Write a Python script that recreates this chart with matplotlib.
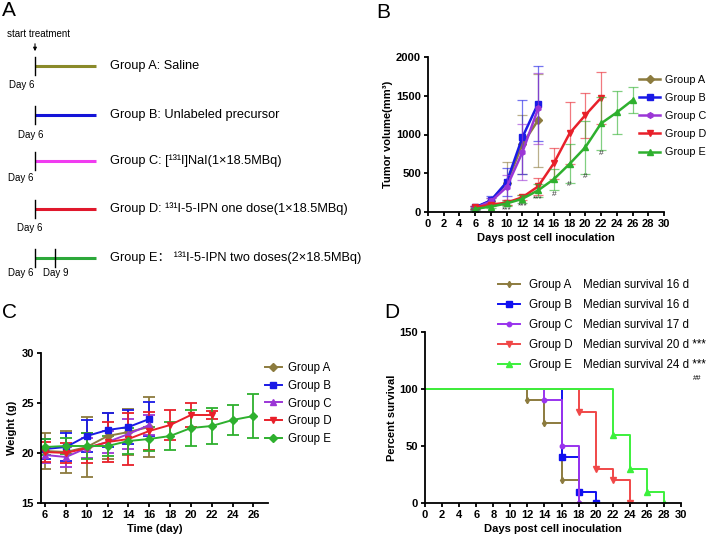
import numpy as np
import matplotlib
matplotlib.use('Agg')
import matplotlib.pyplot as plt

plt.rcParams['font.family'] = ['Liberation Sans', 'Noto Sans CJK SC']
plt.rcParams['axes.linewidth'] = 1.3
plt.rcParams['xtick.major.width'] = 1.3
plt.rcParams['ytick.major.width'] = 1.3
plt.rcParams['xtick.major.size'] = 3
plt.rcParams['ytick.major.size'] = 3

groups = ['Group A', 'Group B', 'Group C', 'Group D', 'Group E']

# ---- panel A: treatment schedule
schedule_labels = ['Group A: Saline',
                   'Group B: Unlabeled precursor',
                   'Group C: [\u00b9\u00b3\u00b9I]NaI(1\u00d718.5MBq)',
                   'Group D: \u00b9\u00b3\u00b9I-5-IPN one dose(1\u00d718.5MBq)',
                   'Group E\uff1a \u00b9\u00b3\u00b9I-5-IPN two doses(2\u00d718.5MBq)']
schedule_colors = ['#8a8a2a', '#1414d8', '#f03cf0', '#e0182c', '#2ca83a']
dose_days = [[6], [6], [6], [6], [6, 9]]

# ---- panel B: tumor volume (mm3)
vol_days = {
    'Group A': [6, 8, 10, 12, 14],
    'Group B': [6, 8, 10, 12, 14],
    'Group C': [6, 8, 10, 12, 14],
    'Group D': [6, 8, 10, 12, 14, 16, 18, 20, 22],
    'Group E': [6, 8, 10, 12, 14, 16, 18, 20, 22, 24, 26],
}
vol_mean = {
    'Group A': [55, 145, 373, 874, 1186],
    'Group B': [60, 150, 385, 964, 1400],
    'Group C': [50, 137, 321, 771, 1336],
    'Group D': [60, 95, 120, 190, 330, 630, 1015, 1250, 1473],
    'Group E': [40, 70, 110, 170, 280, 424, 621, 835, 1143, 1285, 1443],
}
vol_err = {
    'Group A': [20, 40, 278, 380, 600],
    'Group B': [20, 60, 180, 480, 490],
    'Group C': [20, 40, 160, 364, 460],
    'Group D': [15, 20, 30, 30, 107, 200, 400, 290, 335],
    'Group E': [10, 20, 30, 50, 80, 135, 250, 340, 340, 280, 170],
}
star_days = [10, 12, 14]
star_y = [30, 77, 165]
hash_days = [16, 18, 20, 22]
hash_y = [230, 350, 455, 750]

# ---- panel C: body weight (g)
wt_days = {
    'Group A': [6, 8, 10, 12, 14, 16],
    'Group B': [6, 8, 10, 12, 14, 16],
    'Group C': [6, 8, 10, 12, 14, 16],
    'Group D': [6, 8, 10, 12, 14, 16, 18, 20, 22],
    'Group E': [6, 8, 10, 12, 14, 16, 18, 20, 22, 24, 26],
}
wt_mean = {
    'Group A': [20.2, 20.1, 20.6, 21.7, 22.1, 22.6],
    'Group B': [20.4, 20.6, 21.7, 22.3, 22.6, 23.4],
    'Group C': [19.8, 19.6, 20.5, 21.1, 21.9, 22.8],
    'Group D': [20.1, 20.0, 20.5, 21.1, 21.4, 22.2, 22.8, 23.8, 23.8],
    'Group E': [20.6, 20.7, 20.7, 20.7, 21.2, 21.4, 21.7, 22.5, 22.7, 23.3, 23.7],
}
wt_err = {
    'Group A': [1.8, 2.1, 3.0, 2.3, 2.3, 3.0],
    'Group B': [1.0, 1.4, 1.6, 1.7, 1.7, 1.7],
    'Group C': [0.8, 1.0, 1.0, 1.1, 1.5, 1.0],
    'Group D': [1.0, 1.0, 1.5, 2.0, 2.6, 1.9, 1.5, 1.2, 0.4],
    'Group E': [0.8, 0.8, 1.3, 1.0, 1.3, 1.2, 1.4, 1.8, 1.8, 1.5, 2.2],
}

# ---- panel D: survival (%)
surv_days = {
    'Group A': [0, 12, 14, 16, 18],
    'Group B': [0, 16, 18, 20],
    'Group C': [0, 14, 16, 18],
    'Group D': [0, 18, 20, 22, 24],
    'Group E': [0, 22, 24, 26, 28],
}
surv_pct = {
    'Group A': [100, 90, 70, 20, 0],
    'Group B': [100, 40, 10, 0],
    'Group C': [100, 90, 50, 0],
    'Group D': [100, 80, 30, 20, 0],
    'Group E': [100, 60, 30, 10, 0],
}
median_text = ['Median survival 16 d', 'Median survival 16 d', 'Median survival 17 d',
               'Median survival 20 d ***', 'Median survival 24 d ***']

colors_bc = {'Group A': '#8c7b3e', 'Group B': '#1a1ae6', 'Group C': '#9b36d6',
             'Group D': '#e8202a', 'Group E': '#2eb02e'}
colors_d = {'Group A': '#8c7b3e', 'Group B': '#1010f0', 'Group C': '#9933ee',
            'Group D': '#f04848', 'Group E': '#3cf03c'}
mk_b = {'Group A': 'D', 'Group B': 's', 'Group C': 'h', 'Group D': 'v', 'Group E': '^'}
mk_c = {'Group A': 'D', 'Group B': 's', 'Group C': '^', 'Group D': 'v', 'Group E': 'D'}
mk_d = {'Group A': 'd', 'Group B': 's', 'Group C': 'o', 'Group D': 'v', 'Group E': '^'}

W, H = 709, 545
fig = plt.figure(figsize=(W / 100, H / 100), dpi=100)


def box(l, t, r, b):
    return [l / W, 1 - b / H, (r - l) / W, (b - t) / H]


def prism(ax):
    ax.set_facecolor('none')
    ax.spines['top'].set_visible(False)
    ax.spines['right'].set_visible(False)
    ax.tick_params(labelsize=8, pad=2)
    for t in ax.get_xticklabels() + ax.get_yticklabels():
        t.set_fontweight('bold')


# ---------- panel A (drawn in pixel space)
axA = fig.add_axes([0, 0, 1, 1], zorder=-1)
axA.set_xlim(0, W)
axA.set_ylim(H, 0)
axA.axis('off')
axA.text(7, 34, 'start treatment', fontsize=7, va='center')
axA.annotate('', xy=(35, 54), xytext=(35, 41),
             arrowprops=dict(arrowstyle='-|>', color='k', lw=0.8, mutation_scale=5))
row_y = [66, 115, 161, 209, 258]
day_x = [9, 18, 8, 17, 8]
day_y = [85, 135, 178, 228, 273]
for i in range(5):
    y = row_y[i]
    axA.plot([35, 96], [y, y], color=schedule_colors[i], lw=2.2, solid_capstyle='butt')
    for d in dose_days[i]:
        x = 35 + (d - 6) * 6.7
        axA.plot([x, x], [y - 9, y + 9], color='k', lw=1)
    axA.text(day_x[i], day_y[i], 'Day 6', fontsize=7, va='center')
    axA.text(110, y, schedule_labels[i], fontsize=9.2, va='center')
axA.text(43, 273, 'Day 9', fontsize=7, va='center')

for letter, x, y in [('A', 2, 11), ('B', 376, 12), ('C', 2, 313), ('D', 384, 313)]:
    axA.text(x, y, letter, fontsize=15, va='center')

# ---------- panel B
axB = fig.add_axes(box(428, 57, 664, 212))
for g in groups:
    c = colors_bc[g]
    axB.errorbar(vol_days[g], vol_mean[g], yerr=vol_err[g], fmt='none', ecolor=c,
                 elinewidth=0.9, capsize=3.5, capthick=0.9, alpha=0.6)
    axB.plot(vol_days[g], vol_mean[g], color=c, lw=1.8, marker=mk_b[g], ms=4, label=g)
for d, y in zip(star_days, star_y):
    axB.text(d, y, '***', fontsize=6, ha='center', va='center', color='#333333')
for d, y in zip(hash_days, hash_y):
    axB.text(d, y, '#', fontsize=6, ha='center', va='center', color='#333333')
axB.set_xlim(0, 30)
axB.set_ylim(0, 2000)
axB.set_xticks(np.arange(0, 31, 2))
axB.set_yticks([0, 500, 1000, 1500, 2000])
axB.set_xlabel('Days post cell inoculation', fontsize=8, fontweight='bold', labelpad=3)
axB.set_ylabel('Tumor volume(mm\u00b3)', fontsize=8, fontweight='bold', labelpad=2)
prism(axB)
axB.legend(loc='upper left', bbox_to_anchor=(0.893, 0.885), frameon=False, fontsize=7.8,
           borderpad=0, borderaxespad=0, handlelength=2.0, handletextpad=0.45,
           labelspacing=0.75)

# ---------- panel C
axC = fig.add_axes(box(41, 353, 268, 503))
for g in groups:
    c = colors_bc[g]
    axC.errorbar(wt_days[g], wt_mean[g], yerr=wt_err[g], color=c, lw=1.4,
                 marker=mk_c[g], ms=4.5, elinewidth=1.3, capsize=4, capthick=1.3)
    axC.plot([], [], color=c, lw=1.4, marker=mk_c[g], ms=4.5, label=g)
axC.set_xlim(5.6, 27.4)
axC.set_ylim(15, 30)
axC.set_xticks(np.arange(6, 27, 2))
axC.set_yticks([15, 20, 25, 30])
axC.set_xlabel('Time (day)', fontsize=8, fontweight='bold', labelpad=3)
axC.set_ylabel('Weight (g)', fontsize=8, fontweight='bold', labelpad=3)
prism(axC)
axC.legend(loc='upper left', bbox_to_anchor=(0.985, 0.94), frameon=False, fontsize=8.3,
           borderpad=0, borderaxespad=0, handlelength=1.5, handletextpad=0.55,
           labelspacing=0.5)

# ---------- panel D
axD = fig.add_axes(box(425, 332, 681, 503))
for g in groups:
    c = colors_d[g]
    ms = 3.2 if g in ('Group A', 'Group C') else 4.2
    axD.step(surv_days[g], surv_pct[g], where='post', color=c, lw=1.4)
    axD.plot(surv_days[g][1:], surv_pct[g][1:], ls='none', color=c, marker=mk_d[g], ms=ms)
    axD.plot([], [], color=c, lw=1.4, marker=mk_d[g], ms=ms, label=g)
axD.set_xlim(0, 30)
axD.set_ylim(0, 150)
axD.set_xticks(np.arange(0, 31, 2))
axD.set_yticks([0, 50, 100, 150])
axD.set_xlabel('Days post cell inoculation', fontsize=8, fontweight='bold', labelpad=3)
axD.set_ylabel('Percent survival', fontsize=8, fontweight='bold', labelpad=2)
prism(axD)
axD.legend(loc='upper left', bbox_to_anchor=(0.285, 1.31), frameon=False, fontsize=8.3,
           borderpad=0, borderaxespad=0, handlelength=1.9, handletextpad=0.75,
           labelspacing=0.7)
for i, t in enumerate(median_text):
    axA.text(583, 285 + 20 * i, t, fontsize=8.3, va='center')
axA.text(697, 378, '##', fontsize=5.5, va='center', ha='center')

fig.savefig('out.png', dpi=100)
